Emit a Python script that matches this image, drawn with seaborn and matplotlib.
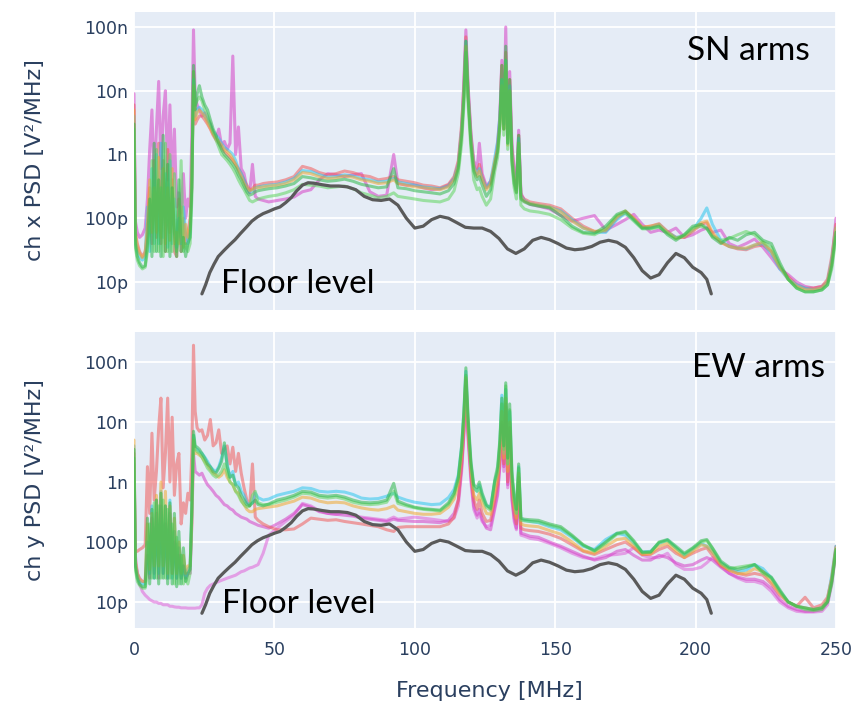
import matplotlib
matplotlib.use("Agg")
import matplotlib.pyplot as plt
from matplotlib.ticker import NullLocator
import pandas as pd
import seaborn as sns

# Frequency grid shared by all channel traces [MHz]
freq = [
    0, 0.5, 1.2, 2, 3, 4, 4.8, 5.6, 6.4, 7.2,
    8, 8.8, 9.6, 10.4, 11.2, 12, 12.8, 13.6, 14.4, 15.2,
    16, 16.8, 17.6, 18.4, 19.2, 20, 20.6, 21.2, 21.8, 22.5,
    23.3, 24.2, 25.2, 26.2, 27.2, 28.2, 29.2, 30.2, 31.2, 32.2,
    33.2, 34.2, 35.2, 36.2, 37.2, 38.2, 39.2, 40.2, 41.2, 42.2,
    43.2, 44.2, 46, 48, 51, 54, 57, 60, 63, 66,
    69, 72, 75, 78, 81, 84, 87, 90, 92.5, 94,
    97, 100, 103, 106, 109, 112, 114, 115.5, 116.7, 117.5,
    118.2, 119, 120, 121, 122.2, 123, 124, 125.5, 127, 128.5,
    129.5, 130.3, 131, 131.7, 132.4, 133.1, 133.8, 134.6, 135.4, 136.2,
    137, 137.8, 139, 141, 144, 148, 152, 156, 160, 164,
    168, 172, 175, 178, 181, 184, 187, 190, 193, 196,
    199, 202, 204, 206, 209, 212, 215, 218, 221, 224,
    227, 230, 233, 236, 239, 242, 245, 247, 248.5, 250,
]

# ---- SN arms, channel x PSD [pV^2/MHz] ----
sn_magenta = [
    9000, 90, 60, 50, 55, 70, 200, 1200, 5000, 300,
    2500, 14000, 600, 4000, 10000, 400, 6000, 300, 2500, 150,
    250, 120, 500, 100, 200, 150, 2000, 90000, 8000, 6000,
    5000, 4000, 4500, 3500, 3000, 2200, 1800, 2500, 1400, 1600,
    1200, 1500, 35000, 1000, 2700, 600, 500, 300, 250, 700,
    220, 200, 190, 180, 190, 200, 215, 260, 280, 400,
    500, 480, 450, 480, 500, 260, 220, 230, 1000, 350,
    330, 330, 300, 280, 290, 330, 420, 700, 2500, 15000,
    90000, 12000, 2200, 800, 600, 1500, 500, 320, 380, 700,
    1500, 4000, 30000, 3000, 100000, 2000, 20000, 1500, 600, 350,
    2400, 250, 190, 165, 155, 140, 110, 90, 100, 110,
    65, 80, 95, 115, 80, 60, 65, 60, 70, 50,
    55, 65, 70, 60, 65, 40, 35, 40, 47, 35,
    24, 16, 13, 10, 8.5, 8, 8.5, 10, 20, 100,
]
sn_red = [
    6000, 60, 40, 30, 25, 30, 60, 300, 40, 800,
    50, 1500, 40, 800, 30, 1200, 60, 400, 30, 25,
    200, 30, 100, 40, 60, 100, 300, 20000, 3000, 3500,
    4000, 4000, 3500, 3000, 2500, 2000, 1700, 1500, 1300, 1100,
    1000, 900, 800, 700, 600, 500, 400, 330, 280, 290,
    330, 330, 350, 360, 370, 400, 450, 650, 600, 520,
    480, 500, 550, 520, 470, 450, 400, 420, 450, 400,
    380, 360, 330, 320, 300, 340, 450, 800, 3000, 12000,
    70000, 10000, 2000, 700, 500, 700, 450, 300, 360, 650,
    1300, 3500, 25000, 2500, 40000, 1800, 15000, 1200, 500, 300,
    2000, 230, 200, 180, 170, 160, 140, 100, 75, 62,
    62, 100, 125, 100, 72, 75, 82, 62, 50, 50,
    62, 80, 85, 55, 42, 36, 33, 32, 36, 38,
    30, 17, 12, 9, 8, 8, 8.5, 11, 25, 80,
]
sn_cyan = [
    4000, 50, 30, 25, 22, 25, 150, 30, 600, 40,
    1000, 40, 1500, 50, 500, 35, 800, 40, 200, 35,
    100, 40, 150, 60, 40, 60, 400, 15000, 4000, 5000,
    5500, 5000, 4000, 3500, 2800, 2300, 2000, 1800, 1500, 1300,
    1200, 1100, 1000, 800, 600, 500, 400, 300, 260, 270,
    300, 310, 320, 330, 340, 370, 420, 560, 540, 480,
    440, 450, 480, 460, 420, 400, 370, 380, 420, 370,
    350, 330, 310, 300, 290, 320, 420, 700, 2500, 10000,
    60000, 9000, 1800, 650, 480, 600, 420, 300, 380, 900,
    1600, 4000, 15000, 3000, 30000, 1500, 12000, 1000, 450, 280,
    1800, 220, 190, 170, 160, 150, 130, 95, 70, 60,
    60, 95, 120, 95, 70, 72, 80, 60, 50, 52,
    65, 100, 145, 80, 45, 36, 34, 33, 38, 40,
    28, 16, 11, 9, 8, 7.5, 8, 10, 22, 70,
]
sn_orange = [
    5000, 55, 35, 28, 24, 28, 80, 400, 60, 300,
    60, 900, 50, 600, 40, 300, 45, 600, 40, 60,
    40, 150, 35, 80, 50, 70, 500, 12000, 3500, 4500,
    5000, 4500, 4000, 3200, 2600, 2100, 1800, 1600, 1400, 1200,
    1100, 1000, 850, 700, 550, 450, 350, 300, 270, 280,
    300, 300, 310, 320, 330, 350, 400, 520, 500, 450,
    420, 430, 460, 440, 400, 380, 350, 360, 400, 350,
    330, 310, 300, 290, 280, 310, 400, 650, 2200, 9000,
    50000, 8000, 1600, 600, 450, 550, 400, 280, 340, 800,
    1200, 3000, 12000, 2500, 25000, 1400, 10000, 900, 400, 260,
    1500, 210, 185, 170, 160, 150, 125, 90, 70, 62,
    65, 105, 130, 100, 72, 75, 80, 60, 48, 52,
    65, 85, 90, 60, 42, 36, 34, 34, 38, 42,
    30, 17, 11, 8.5, 7.5, 7.5, 8, 10, 20, 70,
]
sn_green = [
    3000, 40, 25, 20, 17, 18, 40, 200, 25, 1500,
    30, 400, 25, 2000, 30, 700, 25, 300, 60, 25,
    400, 30, 50, 25, 40, 50, 300, 25000, 5000, 9000,
    12000, 8000, 6000, 5000, 3500, 2500, 2000, 1500, 1200, 1000,
    900, 800, 700, 600, 480, 400, 320, 260, 230, 240,
    260, 270, 280, 290, 300, 320, 350, 450, 430, 400,
    380, 390, 410, 380, 340, 320, 300, 310, 600, 300,
    290, 270, 260, 250, 240, 270, 350, 600, 2000, 8000,
    60000, 8000, 1500, 550, 400, 450, 330, 220, 280, 700,
    1100, 3000, 25000, 2500, 50000, 1500, 15000, 800, 350, 250,
    2000, 200, 180, 165, 155, 145, 110, 75, 60, 58,
    75, 115, 130, 95, 70, 70, 75, 55, 45, 55,
    75, 80, 70, 50, 40, 50, 45, 55, 60, 45,
    40, 20, 11, 8, 7, 7, 7.5, 9, 18, 60,
]
sn_lightgreen = [
    2500, 35, 22, 18, 16, 17, 30, 60, 800, 30,
    1200, 30, 300, 25, 1500, 30, 1000, 30, 500, 30,
    60, 800, 30, 40, 30, 40, 200, 20000, 6000, 7000,
    8000, 7000, 5000, 4000, 3000, 2200, 1700, 1300, 1000, 900,
    800, 700, 600, 500, 400, 330, 280, 230, 190, 180,
    190, 200, 210, 220, 230, 250, 280, 340, 330, 320,
    300, 310, 320, 290, 250, 230, 210, 220, 250, 220,
    210, 200, 190, 185, 180, 200, 270, 500, 1500, 6000,
    40000, 6000, 1200, 400, 280, 300, 220, 160, 200, 550,
    900, 2500, 15000, 2000, 30000, 1200, 10000, 700, 300, 200,
    1500, 160, 140, 130, 125, 115, 95, 70, 58, 55,
    68, 110, 120, 90, 68, 68, 72, 58, 48, 55,
    70, 75, 68, 52, 45, 48, 55, 62, 55, 42,
    35, 18, 11, 8, 7, 7, 7.5, 9, 16, 50,
]

# ---- EW arms, channel y PSD [pV^2/MHz] ----
ew_red = [
    3000, 70, 70, 75, 80, 90, 1800, 300, 6500, 500,
    1500, 8000, 25000, 800, 3000, 25000, 1000, 12000, 600, 2000,
    3000, 200, 450, 300, 650, 500, 3000, 190000, 15000, 8000,
    7000, 7400, 5000, 6000, 11000, 4000, 4500, 7400, 3000, 3500,
    4000, 2000, 3800, 1500, 3000, 1400, 800, 500, 400, 2000,
    260, 230, 200, 180, 160, 160, 165, 200, 250, 240,
    230, 235, 220, 210, 200, 190, 180, 160, 150, 175,
    180, 180, 180, 180, 180, 200, 260, 500, 2000, 8000,
    50000, 7000, 1400, 500, 350, 500, 300, 220, 230, 500,
    900, 2500, 10000, 2000, 20000, 1000, 8000, 700, 300, 200,
    1200, 170, 160, 155, 150, 135, 115, 90, 70, 62,
    75, 90, 100, 80, 62, 62, 75, 85, 65, 55,
    65, 75, 80, 60, 40, 34, 30, 28, 30, 28,
    20, 13, 10, 8.5, 12, 8, 9, 12, 25, 85,
]
ew_pink = [
    600, 60, 30, 20, 15, 13, 12, 11, 10.5, 10,
    10, 9.5, 9.5, 9, 9, 9, 8.5, 8.5, 8.3, 8.2,
    8.2, 8, 8, 8, 7.9, 7.9, 7.9, 7.9, 7.9, 8,
    8, 9, 14, 17, 19, 20, 21, 22, 23, 24,
    25, 26, 27, 28, 30, 32, 33, 35, 37, 38,
    40, 42, 65, 130, 170, 220, 280, 440, 400, 330,
    300, 290, 310, 280, 260, 250, 240, 230, 260, 240,
    250, 260, 250, 240, 230, 220, 250, 400, 1500, 6000,
    30000, 5000, 1000, 350, 250, 300, 220, 180, 190, 400,
    700, 2000, 8000, 1500, 15000, 800, 6000, 500, 220, 160,
    800, 130, 125, 115, 110, 95, 80, 65, 55, 52,
    60, 62, 65, 80, 60, 55, 55, 65, 42, 35,
    35, 38, 45, 55, 40, 30, 25, 22, 22, 20,
    15, 10, 8, 7, 6.8, 6.8, 7, 9, 20, 70,
]
ew_magenta = [
    2000, 45, 30, 25, 22, 22, 60, 25, 250, 30,
    300, 25, 400, 30, 200, 25, 300, 30, 100, 25,
    60, 25, 40, 25, 30, 30, 200, 3000, 1500, 1400,
    1300, 1400, 1100, 900, 800, 700, 600, 550, 480, 420,
    400, 360, 340, 300, 280, 260, 250, 240, 220, 210,
    200, 190, 180, 170, 200, 240, 300, 420, 380, 320,
    300, 290, 280, 270, 250, 240, 230, 220, 240, 230,
    225, 220, 220, 215, 210, 230, 300, 500, 1800, 7000,
    40000, 6000, 1200, 400, 280, 350, 240, 170, 160, 350,
    600, 1800, 9000, 1800, 18000, 900, 7000, 550, 250, 170,
    900, 140, 135, 125, 120, 100, 85, 70, 58, 50,
    55, 70, 75, 60, 50, 50, 60, 55, 45, 40,
    42, 50, 55, 50, 38, 30, 26, 24, 24, 22,
    17, 11, 8.5, 7.5, 7, 7, 7.5, 10, 22, 75,
]
ew_cyan = [
    4000, 45, 28, 22, 20, 20, 100, 30, 400, 25,
    500, 30, 700, 30, 400, 25, 500, 25, 150, 25,
    80, 25, 40, 25, 35, 40, 300, 6000, 3500, 3500,
    3200, 3000, 2600, 2200, 1800, 1600, 1500, 1800, 2500, 4000,
    2000, 1200, 1500, 900, 1000, 700, 600, 450, 420, 450,
    650, 550, 500, 520, 600, 650, 700, 800, 780, 700,
    680, 700, 680, 620, 540, 520, 530, 580, 650, 560,
    500, 460, 440, 420, 430, 550, 750, 1300, 4000, 15000,
    70000, 10000, 2000, 800, 700, 900, 600, 400, 380, 1000,
    1500, 4000, 28000, 3000, 35000, 2000, 15000, 1200, 500, 300,
    1800, 240, 230, 220, 210, 180, 160, 120, 85, 75,
    110, 140, 130, 95, 68, 70, 95, 108, 80, 60,
    75, 95, 85, 70, 45, 36, 32, 34, 42, 36,
    25, 15, 10, 8.5, 8, 7.5, 8, 11, 28, 85,
]
ew_orange = [
    5000, 50, 30, 24, 22, 22, 200, 35, 300, 40,
    600, 40, 1000, 40, 700, 30, 400, 30, 250, 30,
    100, 30, 60, 30, 40, 40, 200, 5000, 3000, 3000,
    2800, 2600, 2200, 1900, 1600, 1400, 1300, 1200, 1300, 1600,
    1200, 1000, 900, 700, 650, 500, 420, 350, 320, 320,
    350, 360, 370, 380, 400, 440, 480, 560, 540, 480,
    450, 460, 450, 400, 370, 350, 340, 360, 400, 340,
    320, 300, 290, 290, 300, 380, 520, 900, 3000, 11000,
    55000, 8000, 1600, 600, 500, 650, 450, 300, 290, 700,
    1100, 3000, 15000, 2500, 25000, 1500, 10000, 900, 400, 250,
    1400, 200, 190, 185, 180, 155, 135, 100, 72, 65,
    85, 110, 115, 85, 62, 64, 85, 95, 72, 55,
    70, 90, 85, 68, 42, 34, 30, 30, 36, 32,
    22, 14, 10, 8.5, 8, 7.5, 8, 11, 25, 80,
]
ew_green = [
    3500, 40, 25, 20, 18, 18, 250, 20, 350, 25,
    500, 20, 650, 25, 400, 20, 450, 20, 300, 18,
    150, 20, 80, 22, 30, 35, 400, 7000, 4000, 3800,
    3500, 3000, 2500, 2000, 1800, 1500, 1400, 1700, 2200, 4500,
    1800, 1200, 1300, 900, 800, 600, 500, 420, 400, 450,
    500, 420, 400, 430, 500, 540, 600, 700, 680, 600,
    580, 600, 560, 500, 460, 450, 460, 500, 950, 480,
    420, 380, 360, 350, 340, 450, 650, 1200, 4000, 15000,
    80000, 12000, 2200, 900, 800, 1000, 650, 420, 360, 1100,
    1800, 5000, 25000, 4000, 45000, 2500, 20000, 1500, 600, 350,
    2000, 250, 240, 235, 230, 200, 180, 130, 90, 72,
    100, 140, 150, 105, 68, 68, 100, 110, 85, 65,
    80, 105, 110, 80, 48, 38, 35, 38, 42, 32,
    26, 16, 10, 8.5, 8, 7.5, 8, 10, 22, 75,
]
ew_lightgreen = [
    2500, 35, 22, 19, 17, 17, 30, 200, 25, 450,
    25, 400, 25, 500, 25, 350, 25, 200, 20, 120,
    20, 60, 20, 25, 20, 30, 300, 6000, 3500, 3200,
    3000, 2600, 2100, 1700, 1500, 1300, 1200, 1300, 1500, 2000,
    1400, 1000, 900, 700, 600, 480, 420, 380, 400, 600,
    700, 450, 420, 420, 460, 500, 560, 650, 630, 560,
    540, 560, 520, 460, 430, 420, 430, 460, 700, 440,
    400, 370, 350, 340, 330, 420, 600, 1100, 3500, 13000,
    60000, 9000, 1900, 800, 700, 800, 550, 380, 340, 1000,
    1500, 4500, 20000, 3500, 40000, 2000, 16000, 1200, 500, 300,
    1700, 230, 225, 220, 215, 190, 170, 125, 88, 70,
    95, 135, 145, 100, 66, 68, 98, 105, 80, 62,
    78, 100, 105, 78, 45, 36, 38, 40, 42, 30,
    25, 15, 10, 8.5, 7.5, 7.2, 7.5, 10, 20, 70,
]

# Instrument floor level [pV^2/MHz]
floor_freq = [
    24.2, 25.5, 27, 28.5, 30, 32, 34, 36, 38, 40,
    42, 44, 46, 48, 50, 52, 54, 56, 58, 60,
    62, 64, 67, 70, 73, 76, 79, 82, 85, 88,
    91, 94, 97, 100, 103, 106, 109, 112, 115, 118,
    121, 124, 127, 130, 133, 136, 139, 142, 145, 148,
    151, 154, 157, 160, 163, 166, 169, 172, 175, 178,
    181, 184, 187, 190, 193, 196, 199, 202, 204, 205.6,
]
floor_psd = [
    6.5, 9, 14, 19, 25, 31, 38, 46, 58, 72,
    90, 105, 118, 128, 140, 150, 175, 210, 270, 330,
    360, 355, 335, 320, 320, 310, 280, 220, 195, 190,
    200, 160, 100, 70, 75, 95, 107, 100, 85, 72,
    70, 70, 62, 48, 33, 28, 33, 45, 50, 46,
    40, 34, 32, 33, 36, 42, 45, 42, 35, 24,
    15, 11.5, 13, 20, 28, 24, 17, 14, 11, 6.5,
]

ytick_vals = [10, 100, 1e3, 1e4, 1e5]
ytick_labels = ["10p", "100p", "1n", "10n", "100n"]
xtick_vals = [0, 50, 100, 150, 200, 250]

palette = {
    "magenta": "#d63fc6",
    "pink": "#e060d8",
    "red": "#f05a5a",
    "cyan": "#2cc6ee",
    "orange": "#f0a830",
    "lightgreen": "#5ed65e",
    "green": "#2eb84a",
}

sn_traces = [("magenta", sn_magenta), ("red", sn_red), ("cyan", sn_cyan),
             ("orange", sn_orange), ("lightgreen", sn_lightgreen), ("green", sn_green)]
ew_traces = [("pink", ew_pink), ("magenta", ew_magenta), ("red", ew_red),
             ("cyan", ew_cyan), ("orange", ew_orange),
             ("lightgreen", ew_lightgreen), ("green", ew_green)]

sns.set_theme(style="darkgrid", rc={
    "axes.facecolor": "#E5ECF6",
    "figure.facecolor": "white",
    "grid.color": "white",
    "grid.linewidth": 1.3,
})
plt.rcParams["font.family"] = ["DejaVu Sans"]

TICK_COLOR = "#2a3f5f"

fig = plt.figure(figsize=(8.56, 7.05), dpi=100)
ax_sn = fig.add_axes([0.1565, 0.5603, 0.8201, 0.4227])
ax_ew = fig.add_axes([0.1565, 0.1092, 0.8201, 0.4199])


def draw_panel(ax, traces, ylim, show_x):
    frames = [pd.DataFrame({"freq": freq, "psd": vals, "channel": name})
              for name, vals in traces]
    df = pd.concat(frames, ignore_index=True)
    sns.lineplot(data=df, x="freq", y="psd", hue="channel", palette=palette,
                 estimator=None, sort=False, linewidth=2.2, alpha=0.55,
                 legend=False, ax=ax)
    sns.lineplot(x=floor_freq, y=floor_psd, color="#5a5a5a", linewidth=2.3,
                 estimator=None, sort=False, ax=ax)
    ax.set_yscale("log")
    ax.set_xlim(0, 250)
    ax.set_ylim(*ylim)
    ax.set_yticks(ytick_vals)
    ax.set_yticklabels(ytick_labels)
    ax.yaxis.set_minor_locator(NullLocator())
    ax.set_xticks(xtick_vals)
    ax.set_xlabel("")
    ax.set_ylabel("")
    ax.tick_params(axis="y", length=0, pad=4, labelsize=12.5, labelcolor=TICK_COLOR)
    ax.tick_params(axis="x", length=0, pad=9, labelsize=12.5, labelcolor=TICK_COLOR,
                   labelbottom=show_x)
    for s in ax.spines.values():
        s.set_visible(False)
    ax.grid(True, which="major", color="white", linewidth=1.3)


draw_panel(ax_sn, sn_traces, (3.63, 1.72e5), False)
draw_panel(ax_ew, ew_traces, (3.69, 3.16e5), True)

note_font = dict(family="Lato", fontsize=24, color="black")
ax_sn.text(0.788, 0.839, "SN arms", transform=ax_sn.transAxes, va="baseline", **note_font)
ax_sn.text(0.124, 0.057, "Floor level", transform=ax_sn.transAxes, va="baseline", **note_font)
ax_ew.text(0.795, 0.848, "EW arms", transform=ax_ew.transAxes, va="baseline", **note_font)
ax_ew.text(0.125, 0.051, "Floor level", transform=ax_ew.transAxes, va="baseline", **note_font)

fig.text(0.041, 0.773, "ch x PSD [V²/MHz]", rotation=90, ha="center", va="center",
         fontsize=16, color=TICK_COLOR)
fig.text(0.041, 0.319, "ch y PSD [V²/MHz]", rotation=90, ha="center", va="center",
         fontsize=16, color=TICK_COLOR)
fig.text(0.572, 0.02, "Frequency [MHz]", ha="center", va="center",
         fontsize=16, color=TICK_COLOR)

fig.savefig("out.png", dpi=100)
